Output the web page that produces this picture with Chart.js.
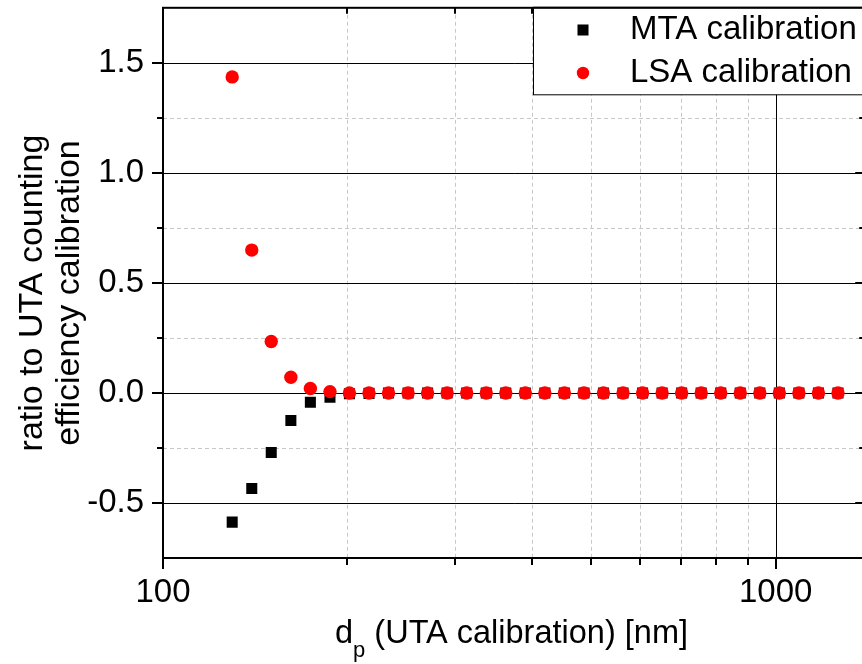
<!DOCTYPE html>
<html>
<head>
<meta charset="utf-8">
<script src="https://cdn.jsdelivr.net/npm/chart.js@4.4.0/dist/chart.umd.min.js"></script>
<style>
  html, body { margin: 0; padding: 0; overflow: hidden; background: #fff; }
  canvas { display: block; }
</style>
</head>
<body>
<canvas id="ratioChart" width="873" height="664"></canvas>
<script>
// particle diameter from the UTA calibration [nm]
const diameters = [129.7, 139.6, 150.2, 161.7, 174.0, 187.3, 201.5, 216.9, 233.4, 251.2,
  270.3, 290.9, 313.1, 337.0, 362.6, 390.3, 420.0, 452.0, 486.5, 523.5, 563.4, 606.4,
  652.6, 702.3, 755.8, 813.4, 875.4, 942.1, 1013.9, 1091.2, 1174.4, 1263.9];

const mtaRatio = [-0.587, -0.434, -0.271, -0.125, -0.042, -0.019, -0.004, -0.002, 0, 0,
  0, 0, 0, 0, 0, 0, 0, 0, 0, 0, 0, 0, 0, 0, 0, 0, 0, 0, 0, 0, 0, 0];

const lsaRatio = [1.436, 0.649, 0.234, 0.071, 0.020, 0.006, 0, 0, 0, 0,
  0, 0, 0, 0, 0, 0, 0, 0, 0, 0, 0, 0, 0, 0, 0, 0, 0, 0, 0, 0, 0, 0];

const seriesLabels = ["MTA calibration", "LSA calibration"];

const xTicks = [100, 1000];
const xMinorTicks = [200, 300, 400, 500, 600, 700, 800, 900];
const yTicks = [-0.5, 0.0, 0.5, 1.0, 1.5];
const yMinorTicks = [-0.25, 0.25, 0.75, 1.25];

const FONT = "'Liberation Sans', Arial, sans-serif";

function line(ctx, x1, y1, x2, y2) {
  ctx.beginPath();
  ctx.moveTo(x1, y1);
  ctx.lineTo(x2, y2);
  ctx.stroke();
}

// grid, ticks and box around the plot
const framePlugin = {
  id: "frame",
  beforeDatasetsDraw(chart) {
    const { ctx, chartArea: a, scales: { x, y } } = chart;
    ctx.save();

    ctx.lineWidth = 1;
    ctx.strokeStyle = "#c8c8c8";
    ctx.setLineDash([4, 3]);
    xMinorTicks.forEach(function (v) {
      const px = Math.round(x.getPixelForValue(v)) + 0.5;
      line(ctx, px, a.top, px, a.bottom);
    });
    yMinorTicks.forEach(function (v) {
      const py = Math.round(y.getPixelForValue(v)) + 0.5;
      line(ctx, a.left, py, a.right, py);
    });
    ctx.setLineDash([]);

    ctx.strokeStyle = "#000";
    yTicks.forEach(function (v) {
      const py = Math.round(y.getPixelForValue(v)) + 0.5;
      line(ctx, a.left, py, a.right, py);
    });
    xTicks.forEach(function (v) {
      const px = Math.round(x.getPixelForValue(v)) + 0.5;
      if (px > a.left + 2) line(ctx, px, a.top, px, a.bottom);
    });

    // tick marks: outward on left/bottom, inward on top/right
    ctx.lineWidth = 2;
    yTicks.forEach(function (v) {
      const py = Math.round(y.getPixelForValue(v));
      line(ctx, a.left - 11, py, a.left, py);
      line(ctx, a.right - 10, py, a.right, py);
    });
    yMinorTicks.forEach(function (v) {
      const py = Math.round(y.getPixelForValue(v));
      line(ctx, a.left - 6, py, a.left, py);
      line(ctx, a.right - 6, py, a.right, py);
    });
    xTicks.forEach(function (v) {
      const px = Math.round(x.getPixelForValue(v));
      line(ctx, px, a.bottom, px, a.bottom + 11);
      line(ctx, px, a.top, px, a.top + 10);
    });
    xMinorTicks.forEach(function (v) {
      const px = Math.round(x.getPixelForValue(v));
      line(ctx, px, a.bottom, px, a.bottom + 7);
      line(ctx, px, a.top, px, a.top + 6);
    });

    ctx.strokeRect(a.left, a.top, a.right - a.left, a.bottom - a.top);
    ctx.restore();
  },
  afterDraw(chart) {
    const { ctx, chartArea: a } = chart;
    ctx.save();

    // axis titles
    ctx.fillStyle = "#000";
    ctx.textBaseline = "alphabetic";
    ctx.textAlign = "left";
    ctx.font = "32.5px " + FONT;
    ctx.fillText("d", 335, 643);
    let cx = 335 + ctx.measureText("d").width;
    ctx.font = "22px " + FONT;
    ctx.fillText("p", cx, 657);
    cx += ctx.measureText("p").width;
    ctx.font = "32.5px " + FONT;
    ctx.fillText(" (UTA calibration) [nm]", cx, 643);

    ctx.save();
    ctx.translate(0, 293);
    ctx.rotate(-Math.PI / 2);
    ctx.font = "34px " + FONT;
    ctx.textAlign = "center";
    ctx.textBaseline = "middle";
    ctx.fillText("ratio to UTA counting", 0, 33);
    ctx.fillText("efficiency calibration", 0, 70);
    ctx.restore();

    // legend box in the upper right corner
    const lx = 533, ly = a.top, lh = 87;
    ctx.fillStyle = "#fff";
    ctx.fillRect(lx, ly, a.right - lx, lh);
    ctx.lineWidth = 1;
    ctx.strokeStyle = "#000";
    ctx.strokeRect(lx + 0.5, ly, a.right - lx, lh);
    ctx.lineWidth = 2;
    line(ctx, lx, a.top, a.right, a.top);

    chart.data.datasets.forEach(function (ds, i) {
      const my = [30, 73][i];
      ctx.fillStyle = ds.backgroundColor;
      Chart.helpers.drawPoint(ctx, {
        pointStyle: ds.pointStyle,
        radius: ds.pointStyle === "rect" ? 7.8 : 6.2,
        rotation: 0,
        borderWidth: 0
      }, 583, my);
      ctx.fillStyle = "#000";
      ctx.font = "33px " + FONT;
      ctx.textAlign = "left";
      ctx.textBaseline = "middle";
      ctx.fillText(ds.label, 630, my);
    });
    ctx.restore();
  }
};

const mtaPoints = diameters.map(function (d, i) { return { x: d, y: mtaRatio[i] }; });
const lsaPoints = diameters.map(function (d, i) { return { x: d, y: lsaRatio[i] }; });

const ctx = document.getElementById("ratioChart").getContext("2d");
const ratioChart = new Chart(ctx, {
  type: "scatter",
  data: {
    datasets: [
      {
        label: seriesLabels[0],
        data: mtaPoints,
        pointStyle: "rect",
        pointRadius: 7.8,
        backgroundColor: "#000000",
        borderWidth: 0,
        order: 2,
      },
      {
        label: seriesLabels[1],
        data: lsaPoints,
        pointStyle: "circle",
        pointRadius: 6.7,
        backgroundColor: "#ff0000",
        borderWidth: 0,
        order: 1,
      },
    ],
  },
  options: {
    responsive: false,
    animation: false,
    devicePixelRatio: 1,
    layout: { padding: { top: 6, right: 2, left: 0, bottom: 0 } },
    plugins: {
      legend: { display: false },
      tooltip: { enabled: false },
    },
    scales: {
      x: {
        type: "logarithmic",
        min: 100,
        max: 1400,
        grid: { display: false, drawTicks: false, tickLength: 0 },
        border: { display: false },
        afterBuildTicks: function (s) { s.ticks = xTicks.map(function (v) { return { value: v }; }); },
        afterFit: function (s) {
          s.height = 106;
          s.paddingLeft = 0;
          s.paddingRight = 0;
        },
        ticks: {
          autoSkip: false,
          maxRotation: 0,
          padding: 15,
          color: "#000",
          font: { family: FONT, size: 33 },
          callback: function (v) { return String(v); },
        },
      },
      y: {
        min: -0.75,
        max: 1.75,
        grid: { display: false, drawTicks: false, tickLength: 0 },
        border: { display: false },
        afterBuildTicks: function (s) { s.ticks = yTicks.map(function (v) { return { value: v }; }); },
        afterFit: function (s) {
          s.width = 163;
          s.paddingTop = 0;
          s.paddingBottom = 0;
        },
        ticks: {
          autoSkip: false,
          padding: 19,
          color: "#000",
          font: { family: FONT, size: 33 },
          callback: function (v) { return v.toFixed(1); },
        },
      },
    },
  },
  plugins: [framePlugin],
});
</script>
</body>
</html>
